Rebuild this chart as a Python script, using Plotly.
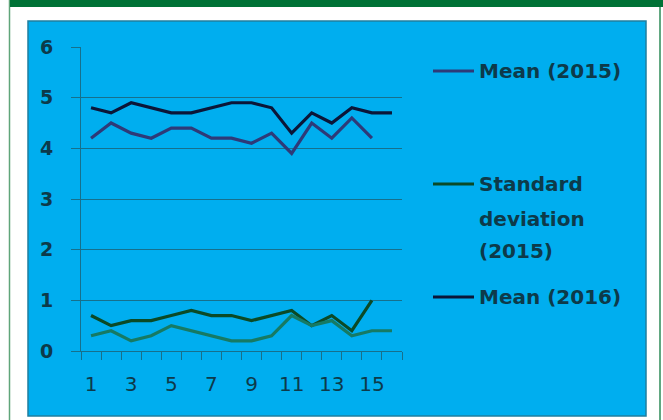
import plotly.graph_objects as go

categories = [str(i) for i in range(1, 17)]
mean_2015 = [4.2, 4.5, 4.3, 4.2, 4.4, 4.4, 4.2, 4.2, 4.1, 4.3, 3.9, 4.5, 4.2, 4.6, 4.2, None]
sd_2015 = [0.7, 0.5, 0.6, 0.6, 0.7, 0.8, 0.7, 0.7, 0.6, 0.7, 0.8, 0.5, 0.7, 0.4, 1.0, None]
mean_2016 = [4.8, 4.7, 4.9, 4.8, 4.7, 4.7, 4.8, 4.9, 4.9, 4.8, 4.3, 4.7, 4.5, 4.8, 4.7, 4.7]
sd_2016 = [0.3, 0.4, 0.2, 0.3, 0.5, 0.4, 0.3, 0.2, 0.2, 0.3, 0.7, 0.5, 0.6, 0.3, 0.4, 0.4]
x_tick_text = [c if int(c) % 2 == 1 else "" for c in categories]

series_names = ["Mean (2015)", "Standard deviation (2015)", "Mean (2016)", "Standard deviation (2016)"]
series_values = [mean_2015, sd_2015, mean_2016, sd_2016]
series_colors = ["#2E3A78", "#0B4A26", "#0B1638", "#167A64"]
legend_shown = [True, True, True, False]

W, H = 663, 420
ML, MR, MT, MB = 81, 261, 47, 69
PW, PH = W - ML - MR, H - MT - MB


def px_x(px):
    return (px - ML) / PW


def px_y(py):
    return (H - MB - py) / PH


TEXT = "#0D3A4A"
GRID = "#16708C"

fig = go.Figure()
for name, vals, col in zip(series_names, series_values, series_colors):
    fig.add_trace(go.Scatter(x=categories, y=vals, mode="lines", name=name,
                             line=dict(color=col, width=3.2), showlegend=False,
                             connectgaps=False))

shapes = [
    # outer white frame borders
    dict(type="line", xref="paper", yref="paper", x0=px_x(9.5), x1=px_x(9.5), y0=px_y(0), y1=px_y(420),
         line=dict(color="#5FA57A", width=1.5), layer="below"),
    dict(type="line", xref="paper", yref="paper", x0=px_x(660), x1=px_x(660), y0=px_y(7), y1=px_y(420),
         line=dict(color="#2E8B57", width=1.5), layer="below"),
    # top green band
    dict(type="rect", xref="paper", yref="paper", x0=px_x(10), x1=px_x(663), y0=px_y(0), y1=px_y(7),
         fillcolor="#007236", line=dict(width=0), layer="below"),
    # blue chart area
    dict(type="rect", xref="paper", yref="paper", x0=px_x(28), x1=px_x(646), y0=px_y(21), y1=px_y(416),
         fillcolor="#00AEEF", line=dict(color="#1F7FA0", width=1.5), layer="below"),
]

annotations = []
legend_rows = {
    "Mean (2015)": (71, ["Mean (2015)"], [71]),
    "Standard deviation (2015)": (184, ["Standard", "deviation", "(2015)"], [184, 219, 251]),
    "Mean (2016)": (297, ["Mean (2016)"], [297]),
}
for name, col, show in zip(series_names, series_colors, legend_shown):
    if not show:
        continue
    ly, lines, ys = legend_rows[name]
    shapes.append(dict(type="line", xref="paper", yref="paper", x0=px_x(433), x1=px_x(474),
                       y0=px_y(ly), y1=px_y(ly), line=dict(color=col, width=3)))
    for t, yy in zip(lines, ys):
        annotations.append(dict(text=t, xref="paper", yref="paper", x=px_x(477), y=px_y(yy),
                                xanchor="left", yanchor="middle", showarrow=False,
                                font=dict(family="DejaVu Sans", size=20, color=TEXT, weight="bold")))

fig.update_layout(
    width=W, height=H,
    margin=dict(l=ML, r=MR, t=MT, b=MB, pad=0),
    paper_bgcolor="white",
    plot_bgcolor="rgba(0,0,0,0)",
    shapes=shapes,
    annotations=annotations,
    showlegend=False,
    xaxis=dict(type="category", categoryorder="array", categoryarray=categories,
               range=[-0.5, len(categories) - 0.5], automargin=False,
               tickmode="array", tickvals=categories, ticktext=x_tick_text, tickangle=0,
               tickson="boundaries", ticks="outside", ticklen=8, tickcolor=GRID, tickwidth=1,
               showline=True, linecolor=GRID, linewidth=1, showgrid=False, zeroline=False,
               ticklabelstandoff=15,
               tickfont=dict(family="DejaVu Sans", size=20, color=TEXT)),
    yaxis=dict(range=[0, 6], dtick=1, tick0=0, ticks="outside", ticklen=9, tickcolor=GRID, tickwidth=1,
               automargin=False,
               showline=True, linecolor=GRID, linewidth=1, showgrid=True, gridcolor=GRID, gridwidth=1,
               zeroline=False, ticklabelstandoff=14,
               tickfont=dict(family="DejaVu Sans", size=19, color=TEXT, weight="bold")),
)

fig.write_html("out.html")
